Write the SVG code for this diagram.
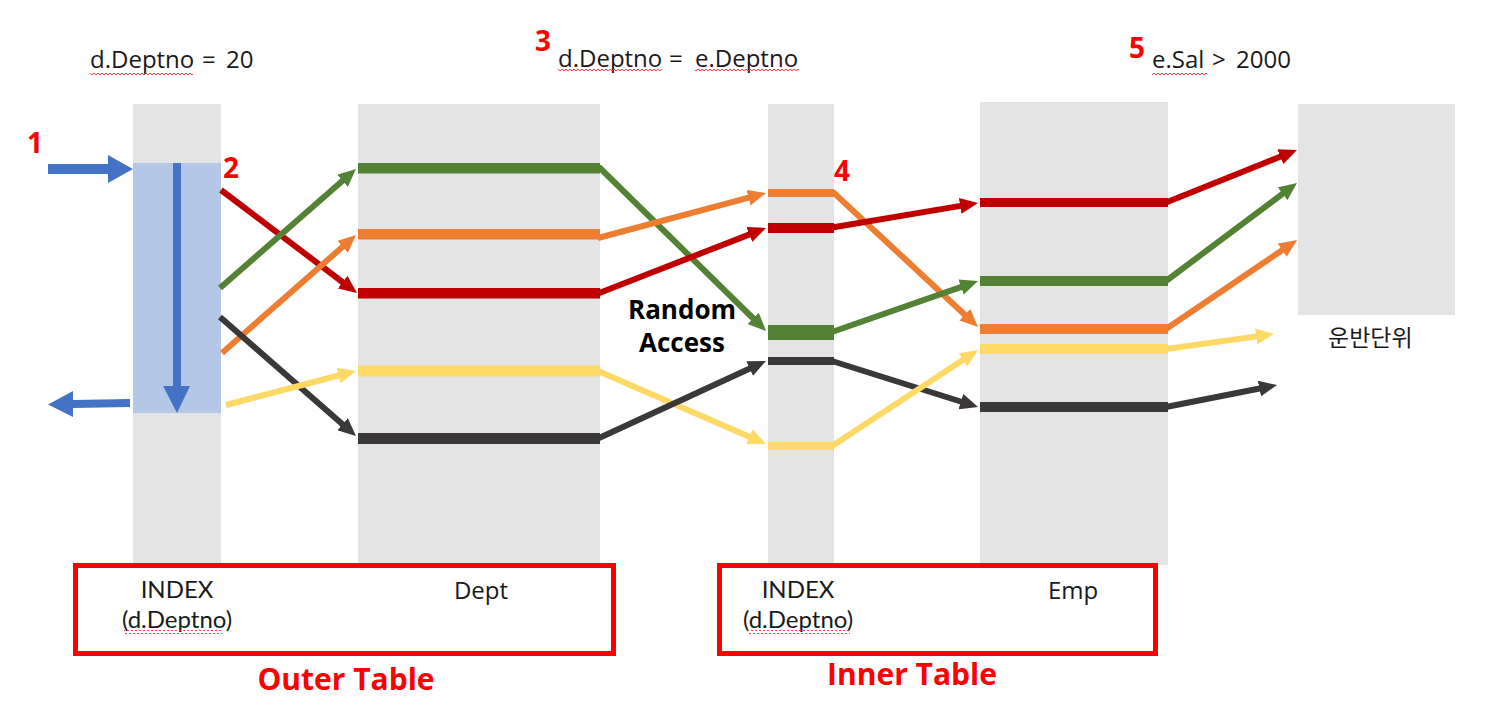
<svg xmlns="http://www.w3.org/2000/svg" width="1490" height="727" viewBox="0 0 1490 727">
<style>
.col{fill:#e4e4e4}
.t{font-family:"Open Sans","Noto Sans","Noto Sans CJK KR",sans-serif;font-size:24px;fill:#1a1a1a}
.bl{font-family:Lato,"Open Sans",sans-serif;font-size:24px;fill:#1a1a1a;text-anchor:middle}
.kr{font-family:"Noto Sans CJK KR","Noto Sans",sans-serif;font-size:23px;fill:#1a1a1a}
.num{font-family:"Open Sans","Noto Sans",sans-serif;font-size:28px;font-weight:700;fill:#ff0000}
.big{font-family:"Open Sans","Noto Sans",sans-serif;font-size:30px;font-weight:700;fill:#ff0000;text-anchor:middle}
.ra{font-family:"Open Sans","Noto Sans",sans-serif;font-size:26px;font-weight:700;fill:#000;text-anchor:middle}
.box{fill:none;stroke:#ff0000;stroke-width:5}
.c{fill:none;stroke-width:6;stroke-linejoin:miter}
.r{stroke:#c00000}.g{stroke:#548235}.o{stroke:#ed7d31}.y{stroke:#ffd966}.k{stroke:#3a3838}
.sq{fill:url(#wavy)}
</style>
<defs>
<pattern id="wavy" patternUnits="userSpaceOnUse" width="4" height="4">
<path d="M0,3 L2,1 L4,3" fill="none" stroke="#ff3030" stroke-width="0.9"/>
</pattern>
<marker id="ar" markerUnits="userSpaceOnUse" viewBox="0 0 18 16" refX="8" refY="8" markerWidth="18" markerHeight="16" orient="auto"><path d="M0,0 L18,8 L0,16 z" fill="#c00000"/></marker>
<marker id="ag" markerUnits="userSpaceOnUse" viewBox="0 0 18 16" refX="8" refY="8" markerWidth="18" markerHeight="16" orient="auto"><path d="M0,0 L18,8 L0,16 z" fill="#548235"/></marker>
<marker id="ao" markerUnits="userSpaceOnUse" viewBox="0 0 18 16" refX="8" refY="8" markerWidth="18" markerHeight="16" orient="auto"><path d="M0,0 L18,8 L0,16 z" fill="#ed7d31"/></marker>
<marker id="ay" markerUnits="userSpaceOnUse" viewBox="0 0 18 16" refX="8" refY="8" markerWidth="18" markerHeight="16" orient="auto"><path d="M0,0 L18,8 L0,16 z" fill="#ffd966"/></marker>
<marker id="ak" markerUnits="userSpaceOnUse" viewBox="0 0 18 16" refX="8" refY="8" markerWidth="18" markerHeight="16" orient="auto"><path d="M0,0 L18,8 L0,16 z" fill="#3a3838"/></marker>
</defs>
<rect width="1490" height="727" fill="#ffffff"/>

<g id="labels-top">
<text class="t" x="90" y="68">d.Deptno</text><text class="t" x="202" y="68">=</text><text class="t" x="226" y="68">20</text>
<rect class="sq" x="90" y="71" width="103" height="4"/>
<text class="num" x="535" y="51">3</text>
<text class="t" x="558" y="67">d.Deptno</text><text class="t" x="669" y="67">=</text><text class="t" x="695" y="67">e.Deptno</text>
<rect class="sq" x="558" y="69" width="104" height="4"/><rect class="sq" x="695" y="69" width="104" height="4"/>
<text class="num" x="1129" y="58">5</text>
<text class="t" x="1152" y="68">e.Sal</text><text class="t" x="1212" y="68">&gt;</text><text class="t" x="1236" y="68">2000</text>
<rect class="sq" x="1152" y="71" width="55" height="4"/>
<text class="num" x="27" y="153">1</text>
<text class="num" x="223" y="178">2</text>
<text class="num" x="834" y="181">4</text>
<text class="ra" x="682" y="319">Random</text>
<text class="ra" x="682" y="352">Access</text>
</g>

<g id="index-outer">
<rect class="col" x="133" y="104" width="88" height="459"/>
<rect x="133" y="163" width="88" height="250" fill="#b4c7e7"/>
<polygon points="48,164 108,164 108,155 133,169 108,183 108,174 48,174" fill="#4472c4"/>
<polygon points="173,163 181,163 181,386 190,386 177,413 163,386 173,386" fill="#4472c4"/>
<polygon points="130,399 73,400 73,391 48,404.5 73,417 73,408 130,407" fill="#4472c4"/>
</g>

<g id="dept">
<rect class="col" x="358" y="104" width="242" height="459"/>
<rect x="358" y="163" width="242" height="10.5" fill="#548235"/>
<rect x="358" y="229" width="242" height="10.5" fill="#ed7d31"/>
<rect x="358" y="288" width="242" height="10.5" fill="#c00000"/>
<rect x="358" y="365.5" width="242" height="11" fill="#ffd966"/>
<rect x="358" y="433" width="242" height="11" fill="#3a3838"/>
</g>

<g id="index-inner">
<rect class="col" x="768" y="104" width="66" height="459"/>
<rect x="768" y="189" width="66" height="8" fill="#ed7d31"/>
<rect x="768" y="223" width="66" height="10" fill="#c00000"/>
<rect x="768" y="325" width="66" height="15" fill="#548235"/>
<rect x="768" y="357" width="66" height="8" fill="#3a3838"/>
<rect x="768" y="442" width="66" height="8" fill="#ffd966"/>
</g>

<g id="emp">
<rect class="col" x="980" y="102" width="188" height="463"/>
<rect x="980" y="198" width="188" height="9" fill="#c00000"/>
<rect x="980" y="276" width="188" height="10" fill="#548235"/>
<rect x="980" y="324" width="188" height="10" fill="#ed7d31"/>
<rect x="980" y="344" width="188" height="10" fill="#ffd966"/>
<rect x="980" y="402" width="188" height="10" fill="#3a3838"/>
</g>

<g id="result">
<rect class="col" x="1298" y="104" width="157" height="211"/>
<text class="kr" x="1328" y="346">운반단위</text>
</g>

<g id="outer-table">
<rect class="box" x="75.5" y="565.5" width="538" height="88"/>
<text class="bl" x="177" y="598">INDEX</text>
<text class="bl" x="177" y="628">(d.Deptno)</text>
<rect class="sq" x="124" y="630" width="98" height="4"/>
<text class="t" x="481" y="599" text-anchor="middle">Dept</text>
<text class="big" x="346" y="690">Outer Table</text>
</g>

<g id="inner-table">
<rect class="box" x="719.5" y="565.5" width="436" height="88"/>
<text class="bl" x="798" y="598">INDEX</text>
<text class="bl" x="798" y="628">(d.Deptno)</text>
<rect class="sq" x="747" y="630" width="103" height="4"/>
<text class="t" x="1073" y="599" text-anchor="middle">Emp</text>
<text class="big" x="912" y="685">Inner Table</text>
</g>

<g id="connectors">
<path class="c r" d="M221,190 L349,287" marker-end="url(#ar)"/>
<path class="c g" d="M220,288 L348.5,175.6" marker-end="url(#ag)"/>
<path class="c o" d="M222,353 L348.5,241.6" marker-end="url(#ao)"/>
<path class="c k" d="M220,317 L348.5,429.4" marker-end="url(#ak)"/>
<path class="c y" d="M226,405 L346.3,373.5" marker-end="url(#ay)"/>

<path class="c g" d="M597,168 L600,168 L758.9,324" marker-end="url(#ag)"/>
<path class="c o" d="M598,238 L756.3,195.6" marker-end="url(#ao)"/>
<path class="c r" d="M598,293.5 L756.7,231.6" marker-end="url(#ar)"/>
<path class="c y" d="M598,371 L756.8,440" marker-end="url(#ay)"/>
<path class="c k" d="M598,438.5 L756.9,365.2" marker-end="url(#ak)"/>

<path class="c o" d="M830,193 L834,193 L970.7,320.2" marker-end="url(#ao)"/>
<path class="c r" d="M832,227.5 L968.1,204.6" marker-end="url(#ar)"/>
<path class="c g" d="M832,332 L968.6,284.3" marker-end="url(#ag)"/>
<path class="c k" d="M832,361 L968.5,404" marker-end="url(#ak)"/>
<path class="c y" d="M832,446 L969.7,355.5" marker-end="url(#ay)"/>

<path class="c r" d="M1166,202.5 L1287.7,153.7" marker-end="url(#ar)"/>
<path class="c g" d="M1166,281 L1289,189" marker-end="url(#ag)"/>
<path class="c o" d="M1166,329 L1288.8,245.7" marker-end="url(#ao)"/>
<path class="c y" d="M1166,349 L1264.1,335.4" marker-end="url(#ay)"/>
<path class="c k" d="M1166,407 L1267.2,387" marker-end="url(#ak)"/>
</g>
</svg>
